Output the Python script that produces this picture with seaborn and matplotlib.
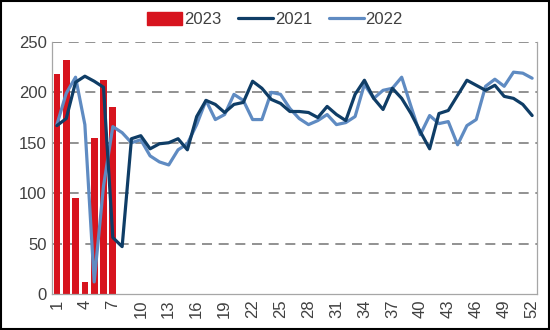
import matplotlib
matplotlib.use("Agg")
import matplotlib.pyplot as plt
import seaborn as sns
import pandas as pd
import numpy as np
from matplotlib.patches import Patch, Rectangle
from matplotlib.lines import Line2D

weeks = [str(i) for i in range(1, 53)]
tick_labels = [str(i) if (i - 1) % 3 == 0 else "" for i in range(1, 53)]

s2023 = [218, 232, 95, 12, 155, 212, 185]
s2021 = [167, 174, 210, 216, 211, 205, 56, 47, 154, 157, 144, 149, 150, 154, 143, 176,
         192, 188, 180, 188, 190, 211, 204, 193, 189, 181, 181, 180, 175, 186, 178, 172,
         198, 212, 194, 183, 204, 194, 179, 161, 144, 179, 182, 197, 212, 207, 202, 207,
         196, 194, 188, 177]
s2022 = [168, 199, 215, 168, 12, 107, 166, 160, 150, 153, 137, 131, 128, 143, 149, 168,
         192, 173, 178, 198, 192, 173, 173, 200, 198, 184, 174, 168, 172, 178, 168, 170,
         176, 208, 194, 202, 204, 215, 186, 158, 177, 169, 171, 148, 167, 173, 206, 213,
         206, 220, 219, 214]

c_red = "#d7141e"
c_dark = "#0f3d66"
c_light = "#5f8bc2"
txt = "#404040"

sns.set_theme(style="white")
plt.rcParams["font.family"] = ["Liberation Sans", "DejaVu Sans"]

fig = plt.figure(figsize=(5.5, 3.3), dpi=100)
ax = fig.add_axes([0.095, 0.109, 0.881, 0.764])

df_bar = pd.DataFrame({"week": weeks[:len(s2023)], "v": s2023})
sns.barplot(data=df_bar, x="week", y="v", order=weeks, color=c_red, width=0.72,
            saturation=1, ax=ax, zorder=2, edgecolor=c_red, linewidth=0)

pos = np.arange(len(weeks))
df_line = pd.DataFrame({"pos": np.concatenate([pos, pos]),
                        "v": s2022 + s2021,
                        "series": ["2022"] * 52 + ["2021"] * 52})
sns.lineplot(data=df_line, x="pos", y="v", hue="series",
             palette={"2021": c_dark, "2022": c_light}, linewidth=2.3,
             ax=ax, legend=False, zorder=3)

ax.set_xlim(-0.5, 51.5)
ax.set_ylim(0, 250)
ax.set_yticks([0, 50, 100, 150, 200, 250])
ax.set_xlabel("")
ax.set_ylabel("")

ax.set_xticks(pos)
ax.set_xticklabels(tick_labels, rotation=90, fontsize=12, color=txt)
ax.set_xticks(np.arange(-0.5, 52, 1), minor=True)
ax.tick_params(axis="x", which="major", length=0, pad=4)
ax.tick_params(axis="x", which="minor", length=5, width=0.8, color="#8c8c8c", direction="out")
ax.tick_params(axis="y", labelsize=12, labelcolor=txt, length=0, pad=4)

for v in [50, 100, 150, 200, 250]:
    ax.axhline(v, color="#7f7f7f", linestyle=(0, (6, 4)), linewidth=1.2, zorder=1)

for side in ["left", "right", "bottom"]:
    ax.spines[side].set_visible(True)
    ax.spines[side].set_color("#a6a6a6")
    ax.spines[side].set_linewidth(0.9)
ax.spines["top"].set_visible(False)

handles = [Patch(facecolor=c_red, edgecolor=c_red),
           Line2D([0], [0], color=c_dark, lw=2.3),
           Line2D([0], [0], color=c_light, lw=2.3)]
fig.legend(handles, ["2023", "2021", "2022"], loc="center", bbox_to_anchor=(0.5, 0.94),
           ncol=3, frameon=False, fontsize=12, handlelength=2.1, handleheight=0.8,
           handletextpad=0.1, columnspacing=1.0, labelcolor=txt)

fig.patches.append(Rectangle((0.002, 0.003), 0.996, 0.994, transform=fig.transFigure,
                             fill=False, edgecolor="black", linewidth=1.5))

fig.savefig("out.png", dpi=100)
